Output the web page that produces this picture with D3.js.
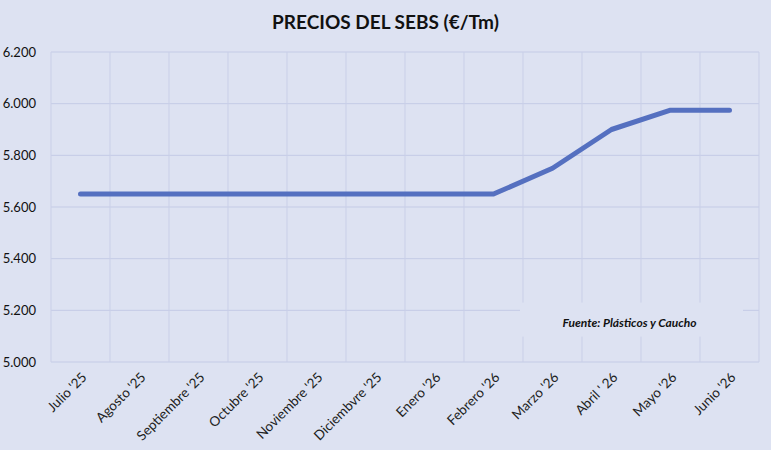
<!DOCTYPE html>
<html>
<head>
<meta charset="utf-8">
<script src="https://cdn.jsdelivr.net/npm/d3@7"></script>
<style>
  body { margin: 0; background: #dde2f2; }
  text { font-family: Lato, "Open Sans", sans-serif; }
</style>
<title>Precios del SEBS</title>
</head>
<body>
<div id="chart"></div>
<script>
  // months shown on the x axis
  const months = ["Julio '25", "Agosto '25", "Septiembre '25", "Octubre '25", "Noviembre '25",
    "Diciembvre '25", "Enero '26", "Febrero '26", "Marzo '26", "Abril ' 26", "Mayo '26", "Junio '26"];
  // price €/Tm
  const prices = [5650, 5650, 5650, 5650, 5650, 5650, 5650, 5650, 5750, 5900, 5975, 5975];
  const yTicks = [5000, 5200, 5400, 5600, 5800, 6000, 6200];

  const width = 771, height = 450;
  const margin = { top: 52, right: 12, bottom: 88, left: 51 };

  const svg = d3.select("#chart").append("svg")
    .attr("width", width)
    .attr("height", height);

  svg.append("rect")
    .attr("width", width).attr("height", height)
    .attr("fill", "#dde2f2");

  const x = d3.scaleBand()
    .domain(months)
    .range([margin.left, width - margin.right]);

  const y = d3.scaleLinear()
    .domain([5000, 6200])
    .range([height - margin.bottom, margin.top]);

  const fmt = d3.formatLocale({ decimal: ",", thousands: ".", grouping: [3], currency: ["", "€"] }).format(",.0f");

  // horizontal gridlines
  svg.append("g")
    .selectAll("line")
    .data(yTicks)
    .join("line")
    .attr("x1", margin.left).attr("x2", width - margin.right)
    .attr("y1", d => y(d)).attr("y2", d => y(d))
    .attr("stroke", "#c4cbe6").attr("stroke-width", 1);

  // vertical gridlines between categories
  const bounds = months.map(m => x(m)).concat([x.range()[1]]);
  svg.append("g")
    .selectAll("line")
    .data(bounds)
    .join("line")
    .attr("x1", d => d).attr("x2", d => d)
    .attr("y1", margin.top).attr("y2", height - margin.bottom)
    .attr("stroke", "#c9cfe8").attr("stroke-width", 1);

  // y labels
  const yAxis = svg.append("g")
    .attr("transform", `translate(${margin.left - 12},0)`)
    .call(d3.axisLeft(y).tickValues(yTicks).tickFormat(fmt).tickSize(0));
  yAxis.select(".domain").remove();
  yAxis.selectAll("text")
    .attr("font-size", 13)
    .attr("fill", "#111")
    .style("font-family", "Lato, sans-serif");

  // x labels
  const xAxis = svg.append("g")
    .attr("transform", `translate(0,${height - margin.bottom})`)
    .call(d3.axisBottom(x).tickSize(0));
  xAxis.select(".domain").remove();
  xAxis.selectAll("text")
    .attr("font-size", 13.5)
    .attr("fill", "#222")
    .attr("text-anchor", "end")
    .attr("dy", 0)
    .attr("transform", "translate(5,14) rotate(-45)")
    .style("font-family", "Lato, sans-serif");

  // source box
  const src = svg.append("g");
  src.append("rect")
    .attr("x", x(months[8]) - 3).attr("y", y(5230))
    .attr("width", 223).attr("height", 34)
    .attr("fill", "#dde2f2");
  src.append("text")
    .attr("x", x(months[8]) + x.bandwidth() * 1.5 + 18)
    .attr("y", y(5200) + 17)
    .attr("text-anchor", "middle")
    .attr("font-size", 12)
    .attr("font-weight", "bold")
    .attr("font-style", "italic")
    .attr("fill", "#111")
    .text("Fuente: Plásticos y Caucho");

  // price line
  const line = d3.line()
    .x((d, i) => x(months[i]) + x.bandwidth() / 2)
    .y(d => y(d));

  svg.append("path")
    .datum(prices)
    .attr("d", line)
    .attr("fill", "none")
    .attr("stroke", "#5570c0")
    .attr("stroke-width", 5)
    .attr("stroke-linecap", "round")
    .attr("stroke-linejoin", "round");

  // title
  svg.append("text")
    .attr("x", width / 2)
    .attr("y", 29)
    .attr("text-anchor", "middle")
    .attr("font-size", 19)
    .attr("font-weight", "bold")
    .attr("fill", "#111")
    .text("PRECIOS DEL SEBS (€/Tm)");
</script>
</body>
</html>
